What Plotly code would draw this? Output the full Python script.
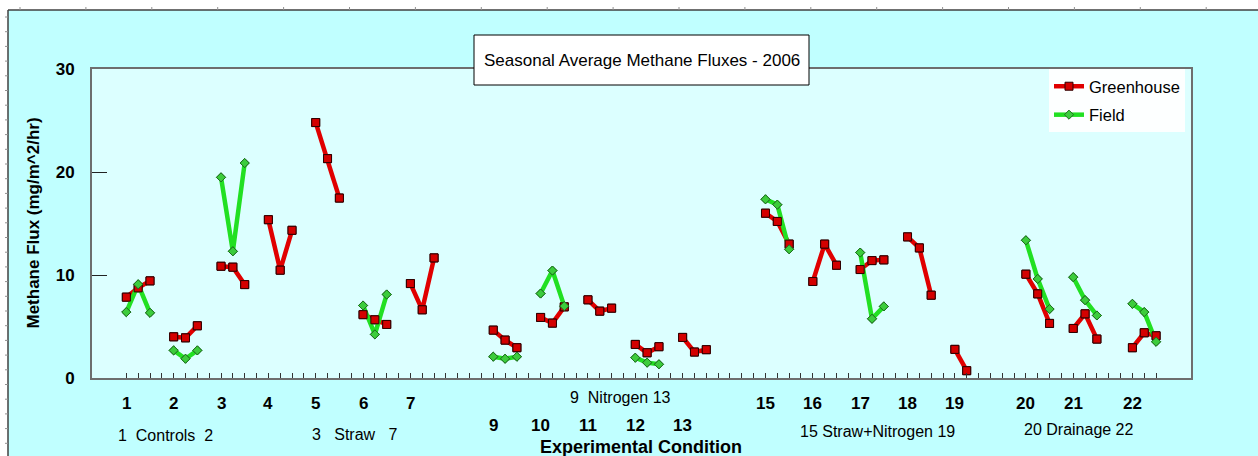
import plotly.graph_objects as go

# ---------------- data ----------------
conditions = [1, 2, 3, 4, 5, 6, 7, 9, 10, 11, 12, 13, 15, 16, 17, 18, 19, 20, 21, 22]
# position of each condition's first sample on the numeric x axis
cond_x = [3, 7, 11, 15, 19, 23, 27, 34, 38, 42, 46, 50, 57, 61, 65, 69, 73, 79, 83, 88]
lower_row = [9, 10, 11, 12, 13]

greenhouse = [
    [7.85, 8.75, 9.43],
    [4.0, 3.9, 5.07],
    [10.85, 10.76, 9.07],
    [15.37, 10.47, 14.34],
    [24.8, 21.3, 17.47],
    [6.15, 5.65, 5.2],
    [9.17, 6.62, 11.66],
    [4.65, 3.68, 2.94],
    [5.88, 5.33, 6.91],
    [7.59, 6.49, 6.78],
    [3.26, 2.45, 3.04],
    [3.94, 2.52, 2.75],
    [16.0, 15.2, 13.0],
    [9.37, 13.0, 10.95],
    [10.53, 11.4, 11.47],
    [13.7, 12.63, 8.04],
    [2.78, 0.71],
    [10.08, 8.17, 5.3],
    [4.81, 6.23, 3.78],
    [2.94, 4.39, 4.1],
]
field = [
    [6.4, 9.1, 6.33],
    [2.68, 1.87, 2.68],
    [19.48, 12.3, 20.87],
    None,
    None,
    [7.04, 4.23, 8.11],
    None,
    [2.07, 1.87, 2.07],
    [8.2, 10.43, 6.98],
    None,
    [1.97, 1.49, 1.33],
    None,
    [17.35, 16.83, 12.5],
    None,
    [12.18, 5.75, 6.95],
    None,
    None,
    [13.37, 9.62, 6.69],
    [9.79, 7.56, 6.07],
    [7.2, 6.4, 3.52],
]
group_labels = ["1  Controls  2", "3   Straw   7", "9  Nitrogen 13",
                "15 Straw+Nitrogen 19", "20 Drainage 22"]
title_text = "Seasonal Average Methane Fluxes - 2006"

# ---------------- layout helpers ----------------
W, H = 1258, 456
L, R, T, B = 92, 1191, 69, 378


def px_x(p):
    return (p - L) / (R - L)


def px_y(p):
    return (B - p) / (B - T)


def series_xy(groups):
    xs, ys = [], []
    for cx, vals in zip(cond_x, groups):
        if not vals:
            continue
        for k, v in enumerate(vals):
            xs.append(cx + k)
            ys.append(v)
        xs.append(None)
        ys.append(None)
    return xs, ys


FONT = "Liberation Sans, Arial, sans-serif"
RED_LINE = "#e00000"
RED_MARK = "#d40000"
GREEN_LINE = "#22e022"
GREEN_MARK = "#3ccc3c"

gx, gy = series_xy(greenhouse)
fx, fy = series_xy(field)

fig = go.Figure()
fig.add_trace(go.Scatter(
    x=gx, y=gy, mode="lines+markers", name="Greenhouse", legendgroup="g",
    line=dict(color=RED_LINE, width=4.5),
    marker=dict(symbol="square", size=8, color=RED_MARK, line=dict(color="#300000", width=1)),
    connectgaps=False))
fig.add_trace(go.Scatter(
    x=fx, y=fy, mode="lines+markers", name="Field", legendgroup="f",
    line=dict(color=GREEN_LINE, width=4.5),
    marker=dict(symbol="diamond", size=7, color=GREEN_MARK, line=dict(color="#1f6f1f", width=1)),
    connectgaps=False))
fig.add_trace(go.Scatter(
    x=gx, y=gy, mode="markers", showlegend=False, hoverinfo="skip",
    marker=dict(symbol="square", size=8, color=RED_MARK, line=dict(color="#300000", width=1))))
fig.add_trace(go.Scatter(
    x=fx, y=fy, mode="markers", showlegend=False, hoverinfo="skip",
    marker=dict(symbol="diamond", size=7, color=GREEN_MARK, line=dict(color="#1f6f1f", width=1))))

annotations = []
# x "tick" labels (two rows)
for c, cx in zip(conditions, cond_x):
    row_y = 425 if c in lower_row else 403
    annotations.append(dict(x=cx, y=px_y(row_y), xref="x", yref="paper", text=str(c),
                            showarrow=False, xanchor="center", yanchor="middle",
                            font=dict(family=FONT, size=17, color="black", weight="bold")))
# group labels
group_pos = [(165, 435), (354, 434), (620, 398), (877, 431), (1079, 429)]
for txt, (gxp, gyp) in zip(group_labels, group_pos):
    annotations.append(dict(x=px_x(gxp), y=px_y(gyp), xref="paper", yref="paper", text=txt,
                            showarrow=False, xanchor="center", yanchor="middle",
                            font=dict(family=FONT, size=16, color="black")))
# axis titles
annotations.append(dict(x=px_x(641), y=px_y(447), xref="paper", yref="paper",
                        text="Experimental Condition", showarrow=False,
                        xanchor="center", yanchor="middle",
                        font=dict(family=FONT, size=18, color="black", weight="bold")))
annotations.append(dict(x=px_x(33), y=0.5, xref="paper", yref="paper",
                        text="Methane Flux (mg/m^2/hr)", showarrow=False, textangle=-90,
                        xanchor="center", yanchor="middle",
                        font=dict(family=FONT, size=17, color="black", weight="bold")))
# title text
annotations.append(dict(x=px_x(642), y=px_y(60), xref="paper", yref="paper",
                        text=title_text, showarrow=False, xanchor="center", yanchor="middle",
                        font=dict(family=FONT, size=17, color="black")))

shapes = [
    # white "ruler" strips
    dict(type="rect", xref="paper", yref="paper", x0=px_x(0), x1=px_x(W), y0=px_y(0), y1=px_y(10),
         fillcolor="white", line=dict(width=0), layer="below"),
    dict(type="rect", xref="paper", yref="paper", x0=px_x(0), x1=px_x(8), y0=px_y(0), y1=px_y(H),
         fillcolor="white", line=dict(width=0), layer="below"),
    dict(type="line", xref="paper", yref="paper", x0=px_x(8), x1=px_x(W), y0=px_y(10), y1=px_y(10),
         line=dict(color="#404040", width=1.5), layer="below"),
    dict(type="line", xref="paper", yref="paper", x0=px_x(8), x1=px_x(8), y0=px_y(10), y1=px_y(H),
         line=dict(color="#404040", width=1.5), layer="below"),
    # title box
    dict(type="rect", xref="paper", yref="paper", x0=px_x(474), x1=px_x(809), y0=px_y(85), y1=px_y(35),
         fillcolor="white", line=dict(color="black", width=1), layer="above"),
]
# ruler ticks
p = 20.0
while p < W:
    shapes.append(dict(type="line", xref="paper", yref="paper", x0=px_x(p), x1=px_x(p),
                       y0=px_y(7), y1=px_y(10), line=dict(color="#909090", width=1), layer="below"))
    p += 65.9
p = 17.0
while p < H:
    shapes.append(dict(type="line", xref="paper", yref="paper", x0=px_x(5), x1=px_x(8),
                       y0=px_y(p), y1=px_y(p), line=dict(color="#909090", width=1), layer="below"))
    p += 14.7

fig.update_layout(
    width=W, height=H,
    margin=dict(l=L, r=W - R, t=T, b=H - B, pad=0),
    paper_bgcolor="#c0ffff",
    plot_bgcolor="#dcffff",
    font=dict(family=FONT, color="black"),
    showlegend=True,
    legend=dict(x=px_x(1049), y=1.0, xanchor="left", yanchor="top",
                bgcolor="rgba(255,255,255,0.92)", borderwidth=0,
                font=dict(family=FONT, size=16.5, color="black"),
                tracegroupgap=4, itemwidth=30),
    annotations=annotations,
    shapes=shapes,
)
fig.update_xaxes(range=[0.1, 92.95], showgrid=False, zeroline=False,
                 showline=True, mirror=True, linecolor="#6e6e6e", linewidth=2,
                 ticks="inside", tickvals=list(range(3, 91)), ticklen=5, tickcolor="#333",
                 tickwidth=1, showticklabels=False)
fig.update_yaxes(range=[0, 30], showgrid=False, zeroline=False,
                 showline=True, mirror=True, linecolor="#6e6e6e", linewidth=2,
                 ticks="inside", tickvals=[0, 10, 20, 30], ticklen=15, tickcolor="#222",
                 tickwidth=1, ticklabelstandoff=12,
                 tickfont=dict(family=FONT, size=17, color="black", weight="bold"))

fig.write_html("out.html")
